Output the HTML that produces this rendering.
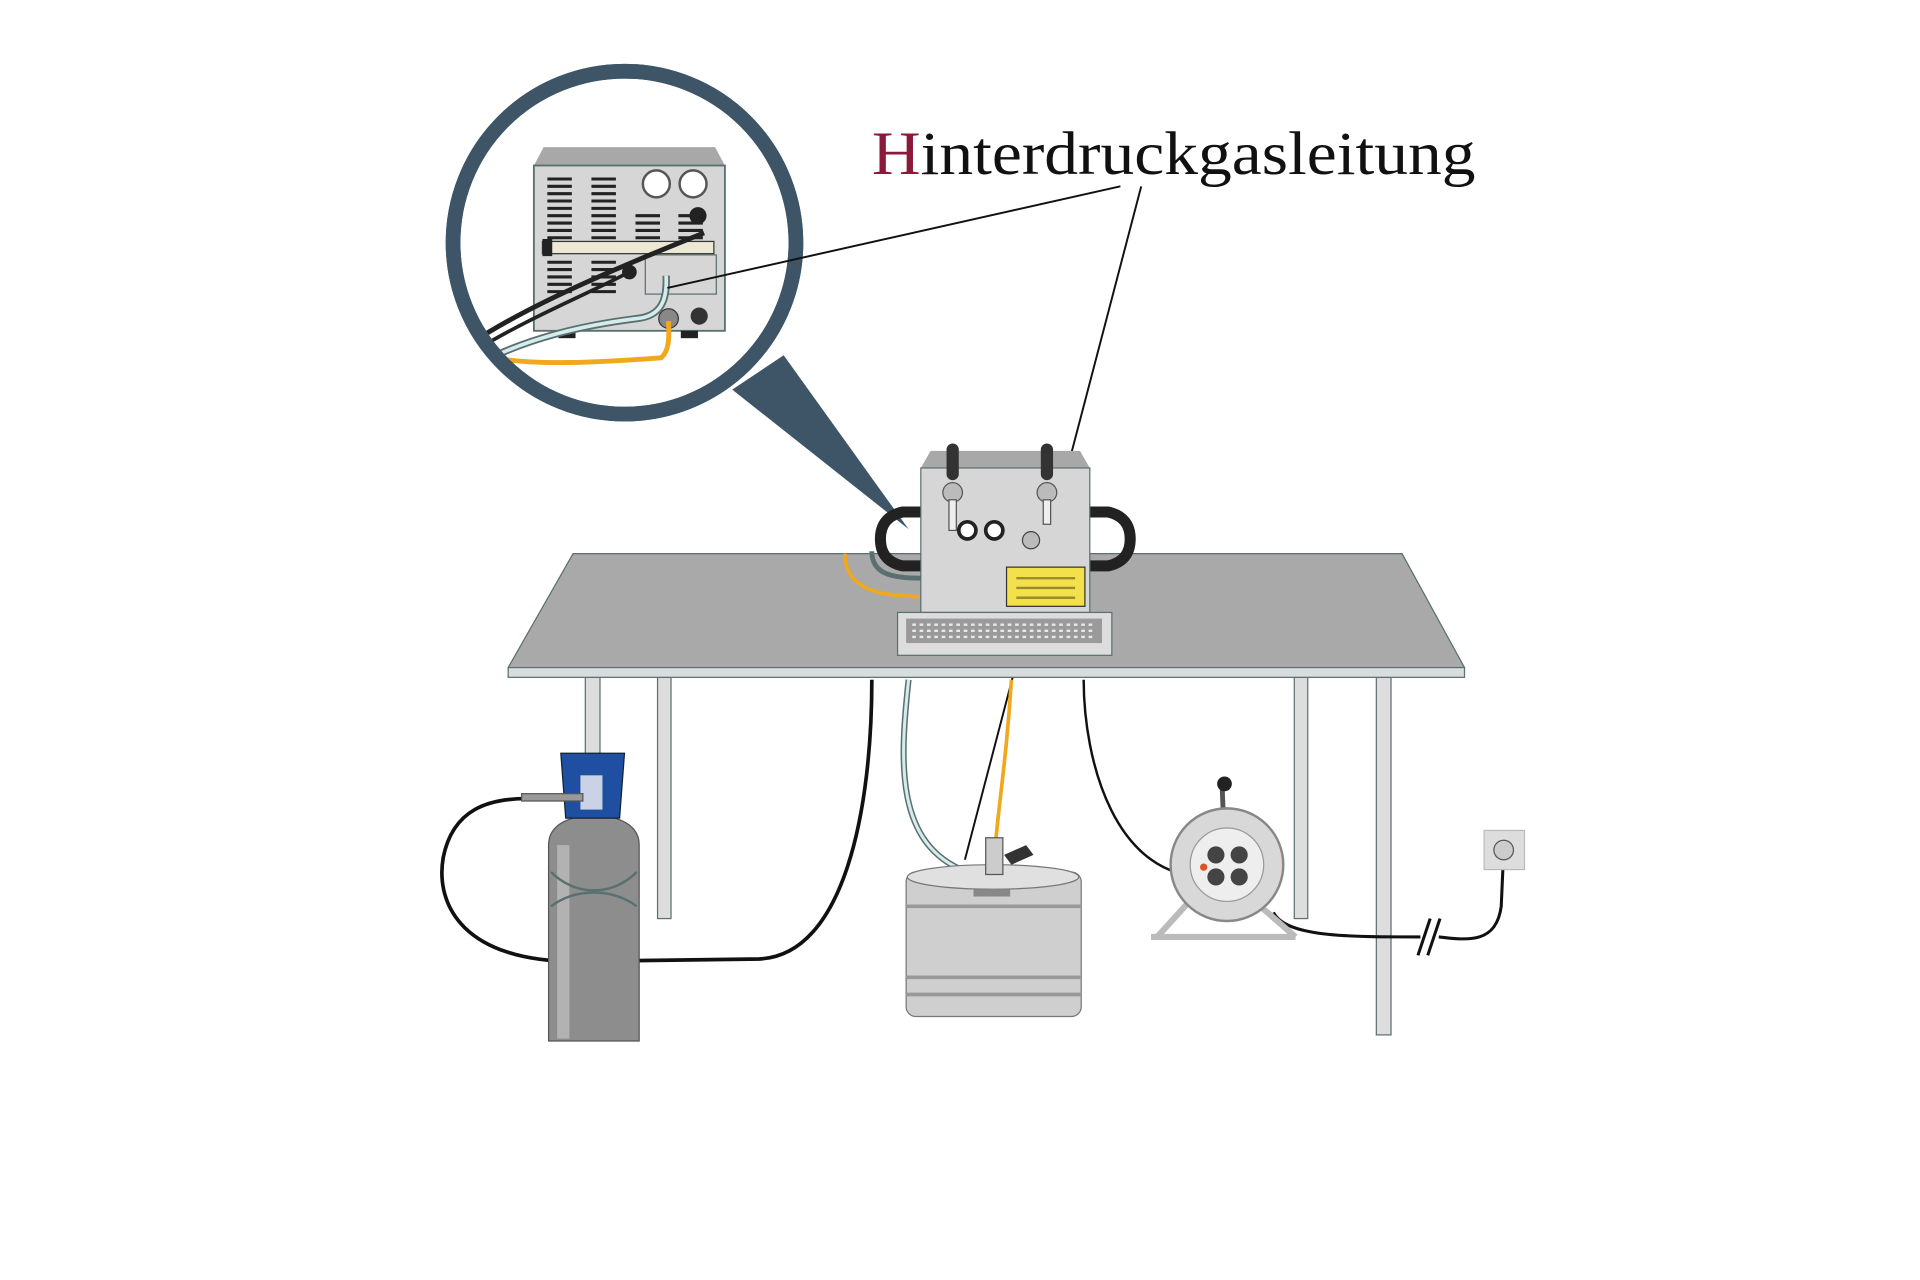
<!DOCTYPE html>
<html><head><meta charset="utf-8"><style>html,body{margin:0;padding:0;background:#fff;width:1920px;height:1280px;overflow:hidden}svg{display:block}</style></head>
<body>
<svg width="1920" height="1280" viewBox="0 0 1568 1045" xmlns="http://www.w3.org/2000/svg">
<polygon points="598,318 640,290 742,432" fill="#3d5566"/>
<circle cx="510" cy="198" r="140" fill="#fff" stroke="#3d5566" stroke-width="12"/>
<defs><clipPath id="c"><circle cx="510" cy="198" r="134"/></clipPath></defs>
<g clip-path="url(#c)">
 <polygon points="436,135 444,120 584,120 592,135" fill="#a8a8a8"/>
 <rect x="436" y="135" width="156" height="135" fill="#d6d6d6" stroke="#5a7070" stroke-width="1.5"/>
 <g stroke="#222" stroke-width="2.5">
  <path d="M447,146h20M447,152h20M447,158h20M447,164h20M447,170h20M447,176h20M447,182h20M447,188h20M447,194h20"/>
  <path d="M483,146h20M483,152h20M483,158h20M483,164h20M483,170h20M483,176h20M483,182h20M483,188h20M483,194h20"/>
  <path d="M519,176h20M519,182h20M519,188h20M519,194h20M554,176h20M554,182h20M554,188h20M554,194h20"/>
  <path d="M447,214h20M447,220h20M447,226h20M447,232h20M447,238h20M483,214h20M483,220h20M483,226h20M483,232h20M483,238h20"/>
 </g>
 <rect x="443" y="197" width="140" height="10" fill="#ece8d4" stroke="#333"/>
 <rect x="443" y="195" width="8" height="14" fill="#222"/>
 <circle cx="536" cy="150" r="11" fill="#fff" stroke="#555" stroke-width="2"/>
 <circle cx="566" cy="150" r="11" fill="#fff" stroke="#555" stroke-width="2"/>
 <circle cx="570" cy="176" r="7" fill="#222"/>
 <circle cx="514" cy="222" r="6" fill="#222"/>
 <rect x="527" y="208" width="58" height="32" fill="none" stroke="#5a7070"/>
 <circle cx="546" cy="260" r="8" fill="#888" stroke="#333"/>
 <circle cx="571" cy="258" r="7" fill="#333"/>
 <rect x="456" y="270" width="14" height="6" fill="#222"/><rect x="556" y="270" width="14" height="6" fill="#222"/>
 <path d="M385,280 C430,250 500,220 575,190" stroke="#222" stroke-width="4" fill="none"/>
 <path d="M385,288 C430,260 480,240 514,222" stroke="#222" stroke-width="3" fill="none"/>
 <path d="M385,300 C430,275 480,265 520,260 C540,258 545,245 544,225" stroke="#5a7070" stroke-width="6" fill="none"/>
 <path d="M385,300 C430,275 480,265 520,260 C540,258 545,245 544,225" stroke="#d6ecec" stroke-width="3" fill="none"/>
 <path d="M395,290 C430,300 500,295 540,292 C548,285 546,270 546,262" stroke="#f0a81c" stroke-width="4" fill="none"/>
</g>
<circle cx="510" cy="198" r="140" fill="none" stroke="#3d5566" stroke-width="12"/>
<text x="712" y="142" font-family="Liberation Serif, serif" font-size="50" textLength="493" lengthAdjust="spacingAndGlyphs" fill="#111"><tspan fill="#8b1a3a">H</tspan>interdruckgasleitung</text>
<line x1="915" y1="152" x2="545" y2="235" stroke="#111" stroke-width="1.6"/>
<line x1="932" y1="152" x2="788" y2="702" stroke="#111" stroke-width="1.6"/>
<rect x="478" y="553" width="12" height="70" fill="#ddd" stroke="#5a7070"/>
<rect x="537" y="553" width="11" height="197" fill="#ddd" stroke="#5a7070"/>
<rect x="1057" y="553" width="11" height="197" fill="#ddd" stroke="#5a7070"/>
<rect x="1124" y="553" width="12" height="292" fill="#ddd" stroke="#5a7070"/>
<polygon points="468,452 1145,452 1196,545 415,545" fill="#a9a9a9" stroke="#5a7070"/>
<rect x="415" y="545" width="781" height="8" fill="#d8dcdc" stroke="#5a7070"/>
<!-- handles -->
<path d="M752,418 h-15 q-18,4 -18,22 q0,18 18,22 h15" stroke="#222" stroke-width="9" fill="none"/>
<path d="M890,418 h15 q18,4 18,22 q0,18 -18,22 h-15" stroke="#222" stroke-width="9" fill="none"/>
<path d="M690,452 c0,25 20,35 62,35" stroke="#f0a81c" stroke-width="3" fill="none"/>
<path d="M712,450 c0,18 15,22 40,22" stroke="#5a7070" stroke-width="4" fill="none"/>
<polygon points="752,382 760,368 882,368 890,382" fill="#a8a8a8"/>
<rect x="752" y="382" width="138" height="118" fill="#d6d6d6" stroke="#5a7070"/>
<rect x="773" y="362" width="10" height="30" rx="5" fill="#333"/><rect x="850" y="362" width="10" height="30" rx="5" fill="#333"/>
<circle cx="778" cy="402" r="8" fill="#bbb" stroke="#555"/><circle cx="855" cy="402" r="8" fill="#bbb" stroke="#555"/>
<rect x="775" y="408" width="6" height="25" fill="#eee" stroke="#555"/><rect x="852" y="408" width="6" height="20" fill="#eee" stroke="#555"/>
<circle cx="790" cy="433" r="7" fill="#fff" stroke="#222" stroke-width="3"/><circle cx="812" cy="433" r="7" fill="#fff" stroke="#222" stroke-width="3"/>
<circle cx="842" cy="441" r="7" fill="#bbb" stroke="#444"/>
<rect x="822" y="463" width="64" height="32" fill="#f2e14a" stroke="#333"/>
<path d="M830,472 h48 M830,480 h48 M830,488 h48" stroke="#9a8a30" stroke-width="2"/>
<rect x="733" y="500" width="175" height="35" fill="#ddd" stroke="#5a7070"/>
<rect x="740" y="505" width="160" height="20" fill="#9a9a9a"/>
<path d="M745,510 h150 M745,515 h150 M745,520 h150" stroke="#e8e8e8" stroke-width="2" stroke-dasharray="3 3"/>
<path d="M742,555 C735,620 730,690 790,712" stroke="#5a7070" stroke-width="5" fill="none"/>
<path d="M742,555 C735,620 730,690 790,712" stroke="#d6ecec" stroke-width="2.5" fill="none"/>
<path d="M826,555 C822,620 815,660 812,700" stroke="#f0a81c" stroke-width="3" fill="none"/>
<path d="M712,555 C712,660 690,780 620,783 L470,785 C380,785 355,740 362,700 C370,660 400,652 430,652" stroke="#111" stroke-width="3" fill="none"/>
<path d="M885,555 C885,620 910,720 990,716" stroke="#111" stroke-width="2" fill="none"/>
<path d="M1040,745 C1050,765 1100,765 1160,765 M1175,765 C1200,768 1222,770 1226,740 L1228,695" stroke="#111" stroke-width="2.5" fill="none"/>
<path d="M1158,780 L1168,750 M1166,780 L1176,750" stroke="#111" stroke-width="2.5"/>
<path d="M448,690 q0,-22 37,-25 q37,3 37,25 v160 h-74z" fill="#8d8d8d" stroke="#555"/>
<rect x="455" y="690" width="10" height="158" fill="#b2b2b2"/>
<path d="M450,712 c20,20 50,20 70,0 M450,740 c20,-15 50,-15 70,0" stroke="#5a7070" stroke-width="2" fill="none"/>
<polygon points="458,615 510,615 506,668 462,668" fill="#1f4fa0" stroke="#123"/>
<rect x="474" y="633" width="18" height="28" fill="#c9d3e5"/>
<rect x="426" y="648" width="50" height="6" fill="#999" stroke="#555"/>
<rect x="740" y="712" width="143" height="118" rx="8" fill="#cfcfcf" stroke="#777"/>
<path d="M740,740 h143 M740,798 h143 M740,812 h143" stroke="#999" stroke-width="3"/>
<ellipse cx="811" cy="716" rx="70" ry="10" fill="#e0e0e0" stroke="#777"/>
<rect x="795" y="726" width="30" height="6" fill="#888"/>
<rect x="805" y="684" width="14" height="30" fill="#ccc" stroke="#555"/>
<path d="M820,698 l18,-8 l6,8 l-18,8z" fill="#333"/>
<path d="M945,765 L995,710 L1058,765 M940,765 h118" stroke="#bbb" stroke-width="5" fill="none"/>
<line x1="998" y1="640" x2="1000" y2="690" stroke="#555" stroke-width="4"/>
<circle cx="1000" cy="640" r="6" fill="#222"/>
<circle cx="1002" cy="706" r="46" fill="#d8d8d8" stroke="#888" stroke-width="2"/>
<circle cx="1002" cy="706" r="30" fill="#eee" stroke="#999"/>
<circle cx="993" cy="698" r="7" fill="#444"/><circle cx="1012" cy="698" r="7" fill="#444"/>
<circle cx="993" cy="716" r="7" fill="#444"/><circle cx="1012" cy="716" r="7" fill="#444"/>
<circle cx="983" cy="708" r="3" fill="#e05020"/>
<rect x="1212" y="678" width="33" height="32" fill="#ddd" stroke="#bbb"/>
<circle cx="1228" cy="694" r="8" fill="#ccc" stroke="#555"/>
</svg>
</body></html>
